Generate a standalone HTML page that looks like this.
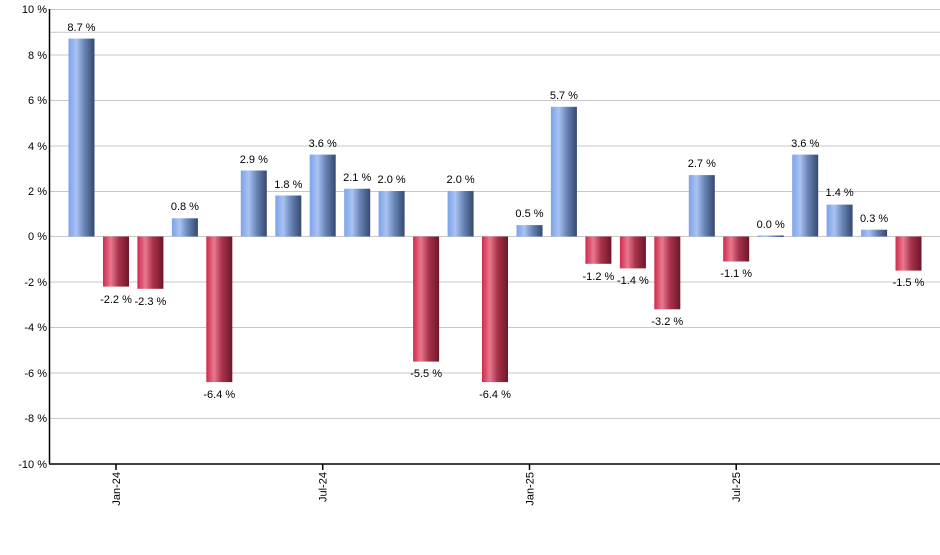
<!DOCTYPE html><html><head><style>body{margin:0;background:#fff}text{font-family:"Liberation Sans",sans-serif;font-size:11px;fill:#000}</style></head><body>
<svg width="940" height="550" xmlns="http://www.w3.org/2000/svg">
<defs>
<linearGradient id="p" x1="0" x2="1"><stop offset="0" stop-color="#7ba2ea"/><stop offset="0.3" stop-color="#a9c3f3"/><stop offset="0.6" stop-color="#6a86b8"/><stop offset="1" stop-color="#34496d"/></linearGradient>
<linearGradient id="n" x1="0" x2="1"><stop offset="0" stop-color="#cf2a4c"/><stop offset="0.3" stop-color="#e9788e"/><stop offset="0.6" stop-color="#a8334c"/><stop offset="1" stop-color="#6e1628"/></linearGradient>
</defs>
<g stroke="#c8c8c8" stroke-width="1">
<line x1="50" x2="940" y1="9.5" y2="9.5"/><line x1="50" x2="940" y1="32.25" y2="32.25"/><line x1="50" x2="940" y1="55" y2="55"/><line x1="50" x2="940" y1="100.5" y2="100.5"/><line x1="50" x2="940" y1="146" y2="146"/><line x1="50" x2="940" y1="191.5" y2="191.5"/><line x1="50" x2="940" y1="236.5" y2="236.5"/><line x1="50" x2="940" y1="282" y2="282"/><line x1="50" x2="940" y1="327.5" y2="327.5"/><line x1="50" x2="940" y1="373" y2="373"/><line x1="50" x2="940" y1="418.5" y2="418.5"/>
</g>
<g fill="url(#p)">
<rect x="68.5" y="38.6" width="26" height="197.9"/>
<rect x="171.9" y="218.3" width="26" height="18.2"/>
<rect x="240.8" y="170.5" width="26" height="66"/>
<rect x="275.3" y="195.5" width="26" height="41"/>
<rect x="309.7" y="154.6" width="26" height="81.9"/>
<rect x="344.2" y="188.7" width="26" height="47.8"/>
<rect x="378.6" y="191" width="26" height="45.5"/>
<rect x="447.6" y="191" width="26" height="45.5"/>
<rect x="516.5" y="225.1" width="26" height="11.4"/>
<rect x="550.9" y="106.8" width="26" height="129.7"/>
<rect x="688.8" y="175.1" width="26" height="61.4"/>
<rect x="757.7" y="235.5" width="26" height="1.5"/>
<rect x="792.2" y="154.6" width="26" height="81.9"/>
<rect x="826.6" y="204.6" width="26" height="31.9"/>
<rect x="861.1" y="229.7" width="26" height="6.8"/>
</g>
<g fill="url(#n)">
<rect x="103" y="236.5" width="26" height="50.1"/>
<rect x="137.4" y="236.5" width="26" height="52.3"/>
<rect x="206.3" y="236.5" width="26" height="145.6"/>
<rect x="413.1" y="236.5" width="26" height="125.1"/>
<rect x="482" y="236.5" width="26" height="145.6"/>
<rect x="585.4" y="236.5" width="26" height="27.3"/>
<rect x="619.9" y="236.5" width="26" height="31.9"/>
<rect x="654.3" y="236.5" width="26" height="72.8"/>
<rect x="723.2" y="236.5" width="26" height="25"/>
<rect x="895.5" y="236.5" width="26" height="34.1"/>
</g>
<g text-anchor="middle">
<text x="81.5" y="31">8.7 %</text>
<text x="116" y="303">-2.2 %</text>
<text x="150.4" y="305">-2.3 %</text>
<text x="184.9" y="210">0.8 %</text>
<text x="219.3" y="398">-6.4 %</text>
<text x="253.8" y="163">2.9 %</text>
<text x="288.3" y="188">1.8 %</text>
<text x="322.7" y="147">3.6 %</text>
<text x="357.2" y="181">2.1 %</text>
<text x="391.6" y="183">2.0 %</text>
<text x="426.1" y="377">-5.5 %</text>
<text x="460.6" y="183">2.0 %</text>
<text x="495" y="398">-6.4 %</text>
<text x="529.5" y="217">0.5 %</text>
<text x="563.9" y="99">5.7 %</text>
<text x="598.4" y="280">-1.2 %</text>
<text x="632.9" y="284">-1.4 %</text>
<text x="667.3" y="325">-3.2 %</text>
<text x="701.8" y="167">2.7 %</text>
<text x="736.2" y="277">-1.1 %</text>
<text x="770.7" y="228">0.0 %</text>
<text x="805.2" y="147">3.6 %</text>
<text x="839.6" y="196">1.4 %</text>
<text x="874.1" y="222">0.3 %</text>
<text x="908.5" y="286">-1.5 %</text>
</g>
<g text-anchor="end">
<text x="47" y="13">10 %</text><text x="47" y="59">8 %</text><text x="47" y="104">6 %</text><text x="47" y="150">4 %</text><text x="47" y="195">2 %</text><text x="47" y="240">0 %</text><text x="47" y="286">-2 %</text><text x="47" y="331">-4 %</text><text x="47" y="377">-6 %</text><text x="47" y="422">-8 %</text><text x="47" y="468">-10 %</text>
</g>
<g stroke="#000" stroke-width="1.5">
<line x1="49.5" y1="9" x2="49.5" y2="464"/><line x1="49" y1="464" x2="940" y2="464"/>
<line x1="116" y1="464" x2="116" y2="470"/><line x1="322.7" y1="464" x2="322.7" y2="470"/><line x1="529.5" y1="464" x2="529.5" y2="470"/><line x1="736.2" y1="464" x2="736.2" y2="470"/>
</g>
<g text-anchor="end">
<text transform="translate(120,472) rotate(-90)">Jan-24</text>
<text transform="translate(326.7,472) rotate(-90)">Jul-24</text>
<text transform="translate(533.5,472) rotate(-90)">Jan-25</text>
<text transform="translate(740.2,472) rotate(-90)">Jul-25</text>
</g>
</svg></body></html>
